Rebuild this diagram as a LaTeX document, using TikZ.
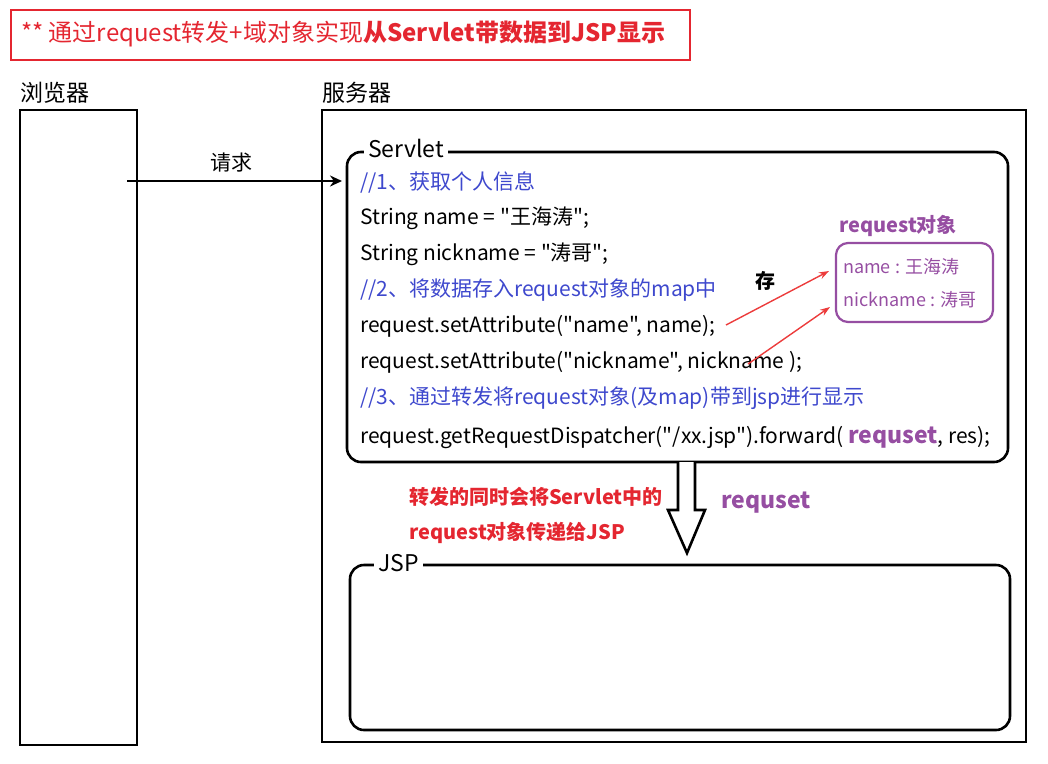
\documentclass[tikz,border=0pt]{standalone}
\usepackage{fontspec}
\setmainfont{Noto Sans CJK SC}[Ligatures=TeXOff]
\usetikzlibrary{arrows.meta}
\definecolor{titlered}{RGB}{228,38,48}
\definecolor{cmtblue}{RGB}{62,72,205}
\definecolor{objpurple}{RGB}{150,78,162}
\definecolor{arrred}{RGB}{236,60,60}

\begin{document}
\begin{tikzpicture}[x=1pt, y=-1pt,
  code/.style={anchor=west, inner sep=0pt, font=\fontsize{21}{21}\selectfont},
  cmt/.style={code, text=cmtblue},
  head/.style={anchor=west, inner sep=0pt, font=\fontsize{23}{23}\selectfont},
  frame/.style={line width=2.6pt},
  rfr/.style={line width=2.6pt, rounded corners=14pt}]
  \useasboundingbox (0,0) rectangle (1048,763);

  % title
  \draw[titlered, line width=2.4pt] (11,10) rectangle (690,60);
  \node[head, text=titlered, font=\fontsize{24}{24}\selectfont] (title) at (21,34) {** 通过request转发+域对象实现\textbf{从Servlet带数据到JSP显示}};

  % browser / server
  \node[head] (lbrowser) at (20,93) {浏览器};
  \node[head] (lserver) at (322,93) {服务器};
  \draw[frame] (20,110) rectangle (137,745);
  \draw[frame] (322,110) rectangle (1026,742);

  % servlet box
  \draw[rfr] (347,152) rectangle (1008,462);
  \node[head, fill=white, inner xsep=4pt, inner ysep=2pt] (servlet) at (364,148) {Servlet\hspace{20pt}};

  \coordinate (req0) at (127,181);
  \coordinate (req1) at (342,181);
  \draw[line width=2.2pt, -{Stealth[length=12pt, width=11pt]}] (req0) -- (req1);
  \node[code, anchor=center] (lreq) at (231,163) {请求};

  % code lines
  \node[cmt] (c1) at (360,182) {//1、获取个人信息};
  \node[code] (c2) at (360,218) {String name = "王海涛";};
  \node[code] (c3) at (360,254) {String nickname = "涛哥";};
  \node[cmt] (c4) at (360,290) {//2、将数据存入request对象的map中};
  \node[code] (c5) at (360,326) {request.setAttribute("name", name);};
  \node[code] (c6) at (360,362) {request.setAttribute("nickname", nickname );};
  \node[cmt] (c7) at (360,398) {//3、通过转发将request对象(及map)带到jsp进行显示};
  \node[code] (c8) at (360,438) {request.getRequestDispatcher("/xx.jsp").forward( {\fontsize{23}{23}\selectfont\bfseries\color{objpurple}requset}, res);};

  % request object
  \node[code, text=objpurple, font=\fontsize{20}{20}\selectfont\bfseries] (lobj) at (839,226) {request对象};
  \draw[objpurple, line width=2.2pt, rounded corners=12pt] (836,243) rectangle (993,322);
  \node[code, text=objpurple, font=\fontsize{18}{18}\selectfont] (o1) at (843,267) {name : 王海涛};
  \node[code, text=objpurple, font=\fontsize{18}{18}\selectfont] (o2) at (843,300) {nickname : 涛哥};
  \node[code, font=\fontsize{20}{20}\selectfont\bfseries, anchor=center] (store) at (765,281) {存};

  \coordinate (a1) at (726,325);
  \coordinate (b1) at (829,271);
  \coordinate (a2) at (748,364);
  \coordinate (b2) at (830,307);
  \draw[arrred, line width=1.4pt, -{Stealth[length=10pt, width=7pt]}] (a1) -- (b1);
  \draw[arrred, line width=1.4pt, -{Stealth[length=10pt, width=7pt]}] (a2) -- (b2);

  % forward
  \draw[line width=2.6pt, fill=white] (678,462) -- (678,510) -- (668,510) -- (687,553)
    -- (705,510) -- (695,510) -- (695,462);
  \node[code, text=titlered, font=\fontsize{20}{20}\selectfont\bfseries] (f1) at (409,497) {转发的同时会将Servlet中的};
  \node[code, text=titlered, font=\fontsize{20}{20}\selectfont\bfseries] (f2) at (409,533) {request对象传递给JSP};
  \node[code, text=objpurple, font=\fontsize{23}{23}\selectfont\bfseries] (fwd) at (721,503) {requset};

  % jsp box
  \draw[rfr] (350,565) rectangle (1010,730);
  \node[head, fill=white, inner xsep=4pt, inner ysep=2pt] (jsp) at (374,563) {JSP\hspace{8pt}};
\end{tikzpicture}
\end{document}
